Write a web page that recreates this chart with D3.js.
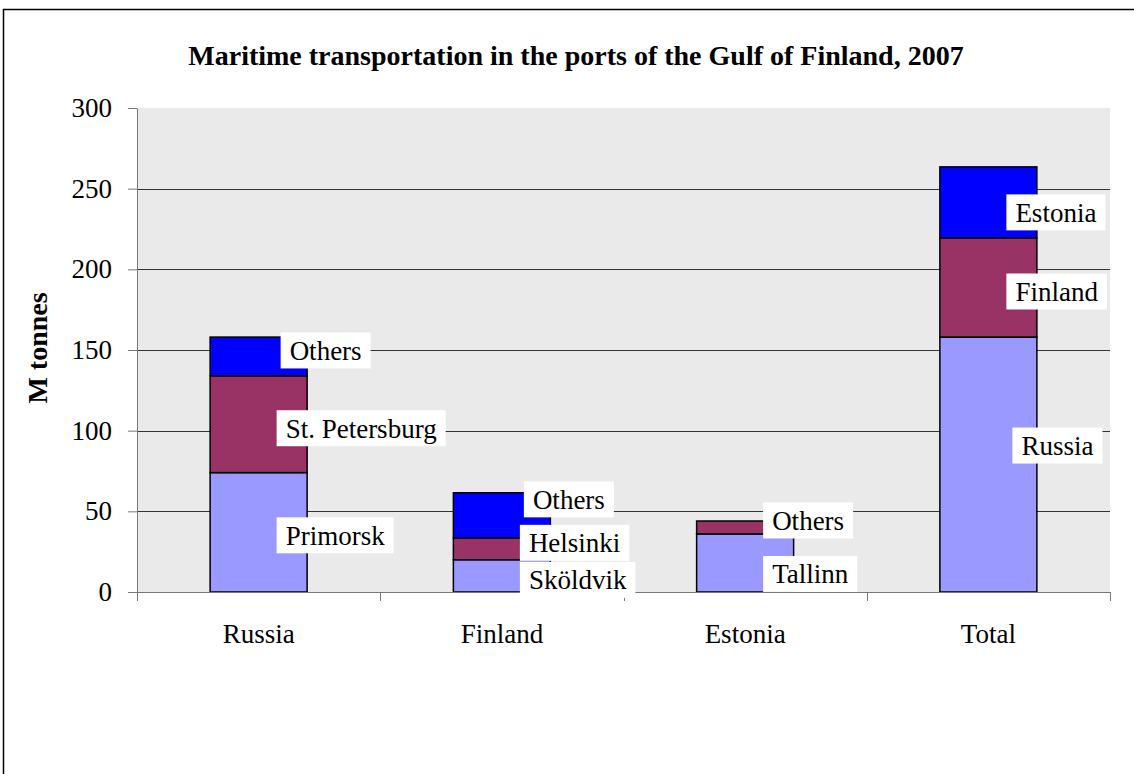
<!DOCTYPE html>
<html>
<head>
<meta charset="utf-8">
<script src="https://cdn.jsdelivr.net/npm/d3@7"></script>
<style>
  body { margin: 0; background: #fff; }
  svg { display: block; }
  text { font-family: "Liberation Serif", "Times New Roman", serif; fill: #000; }
</style>
</head>
<body>
<div id="chart"></div>
<script>
  // values (M tonnes)
  var categories = ["Russia", "Finland", "Estonia", "Total"];
  var bottomValues = [74, 20, 36, 158];
  var middleValues = [60, 13.5, 8, 61.5];
  var topValues = [24, 28, 0, 44];
  var bottomLabels = ["Primorsk", "Sköldvik", "Tallinn", "Russia"];
  var middleLabels = ["St. Petersburg", "Helsinki", "Others", "Finland"];
  var topLabels = ["Others", "Others", null, "Estonia"];
  var yTicks = [0, 50, 100, 150, 200, 250, 300];

  // hand placed label offsets (px), as in the original
  var labelShift = {
    bottom: [[0, 3], [0, 4], [0, 11], [6, -19]],
    middle: [[0, 4], [0, -6], [0, -7], [0, 4]],
    top: [[4, -6], [4, -16], [0, 0], [0, 10]]
  };

  var width = 1134, height = 774;
  var margin = { left: 137, right: 24, top: 108, bottom: 182 };

  var svg = d3.select("#chart").append("svg")
    .attr("width", width)
    .attr("height", height);

  // outer frame
  svg.append("path")
    .attr("d", "M3.5," + height + "V9.5H" + width)
    .attr("fill", "none")
    .attr("stroke", "#000")
    .attr("stroke-width", 1.5);

  var x = d3.scaleBand()
    .domain(categories)
    .range([margin.left, width - margin.right])
    .paddingInner(0.6)
    .paddingOuter(0.3);

  var y = d3.scaleLinear()
    .domain([0, 300])
    .range([height - margin.bottom, margin.top]);

  // plot area
  svg.append("rect")
    .attr("x", margin.left)
    .attr("y", y(300))
    .attr("width", width - margin.right - margin.left)
    .attr("height", y(0) - y(300))
    .attr("fill", "#eaeaea");

  svg.append("g")
    .selectAll("line")
    .data(yTicks.filter(function(d) { return d > 0 && d < 300; }))
    .join("line")
    .attr("x1", margin.left)
    .attr("x2", width - margin.right)
    .attr("y1", function(d) { return Math.round(y(d)) + 0.5; })
    .attr("y2", function(d) { return Math.round(y(d)) + 0.5; })
    .attr("stroke", "#333")
    .attr("stroke-width", 1);

  var rows = categories.map(function(c, i) {
    return { cat: c, bottom: bottomValues[i], middle: middleValues[i], top: topValues[i], i: i };
  });
  var keys = ["bottom", "middle", "top"];
  var colors = { bottom: "#9999ff", middle: "#993366", top: "#0000ff" };
  var names = { bottom: bottomLabels, middle: middleLabels, top: topLabels };

  var series = d3.stack().keys(keys)(rows);

  var barW = 97;
  function barX(d) { return x(d.data.cat) + x.bandwidth() / 2 - barW / 2; }

  series.forEach(function(s) {
    svg.append("g")
      .selectAll("rect")
      .data(s.filter(function(d) { return d[1] > d[0]; }))
      .join("rect")
      .attr("x", barX)
      .attr("width", barW)
      .attr("y", function(d) { return y(d[1]); })
      .attr("height", function(d) { return y(d[0]) - y(d[1]); })
      .attr("fill", colors[s.key])
      .attr("stroke", "#000")
      .attr("stroke-width", 1.5);
  });

  // axes
  var yAxis = svg.append("g")
    .attr("transform", "translate(" + margin.left + ",0)")
    .call(d3.axisLeft(y).tickValues(yTicks).tickSize(9).tickPadding(16).tickSizeOuter(0));
  yAxis.select(".domain").attr("stroke", "#777");
  yAxis.selectAll(".tick line").attr("stroke", "#777");
  yAxis.selectAll(".tick text")
    .style("font-family", "'Liberation Serif', 'Times New Roman', serif")
    .style("font-size", "27px")
    .attr("fill", "#000");

  var xAxis = svg.append("g")
    .attr("transform", "translate(0," + y(0) + ")")
    .call(d3.axisBottom(x).tickSize(0).tickPadding(32));
  xAxis.select(".domain").attr("stroke", "#777");
  xAxis.selectAll(".tick text")
    .style("font-family", "'Liberation Serif', 'Times New Roman', serif")
    .style("font-size", "27px")
    .attr("fill", "#000");

  // category boundary ticks
  var bounds = categories.map(function(c) { return x(c) - x.step() * x.paddingInner() / 2; });
  bounds.push(width - margin.right);
  svg.append("g")
    .selectAll("line")
    .data(bounds)
    .join("line")
    .attr("x1", function(d) { return Math.round(d) + 0.5; })
    .attr("x2", function(d) { return Math.round(d) + 0.5; })
    .attr("y1", y(0))
    .attr("y2", y(0) + 9)
    .attr("stroke", "#777");

  // data labels
  var labelG = svg.append("g");
  series.forEach(function(s) {
    s.forEach(function(d, i) {
      var name = names[s.key][i];
      if (!name || d[1] <= d[0]) return;
      var sh = labelShift[s.key][i];
      var cx = x(d.data.cat) + x.bandwidth() / 2 + 18 + sh[0];
      var cy = y((d[0] + d[1]) / 2) + sh[1];
      var g = labelG.append("g");
      var box = g.append("rect").attr("fill", "#fff");
      var t = g.append("text")
        .attr("x", cx + 9)
        .attr("y", cy)
        .attr("dy", "0.35em")
        .style("font-size", "27px")
        .text(name);
      var w = t.node().getComputedTextLength();
      box.attr("x", cx).attr("y", cy - 18).attr("width", w + 18).attr("height", 36);
    });
  });

  // title
  svg.append("text")
    .attr("x", 576)
    .attr("y", 65)
    .attr("text-anchor", "middle")
    .style("font-size", "28px")
    .style("font-weight", "bold")
    .text("Maritime transportation in the ports of the Gulf of Finland, 2007");

  // y axis title
  svg.append("text")
    .attr("transform", "translate(47,348) rotate(-90)")
    .attr("text-anchor", "middle")
    .style("font-size", "28px")
    .style("font-weight", "bold")
    .text("M tonnes");
</script>
</body>
</html>
